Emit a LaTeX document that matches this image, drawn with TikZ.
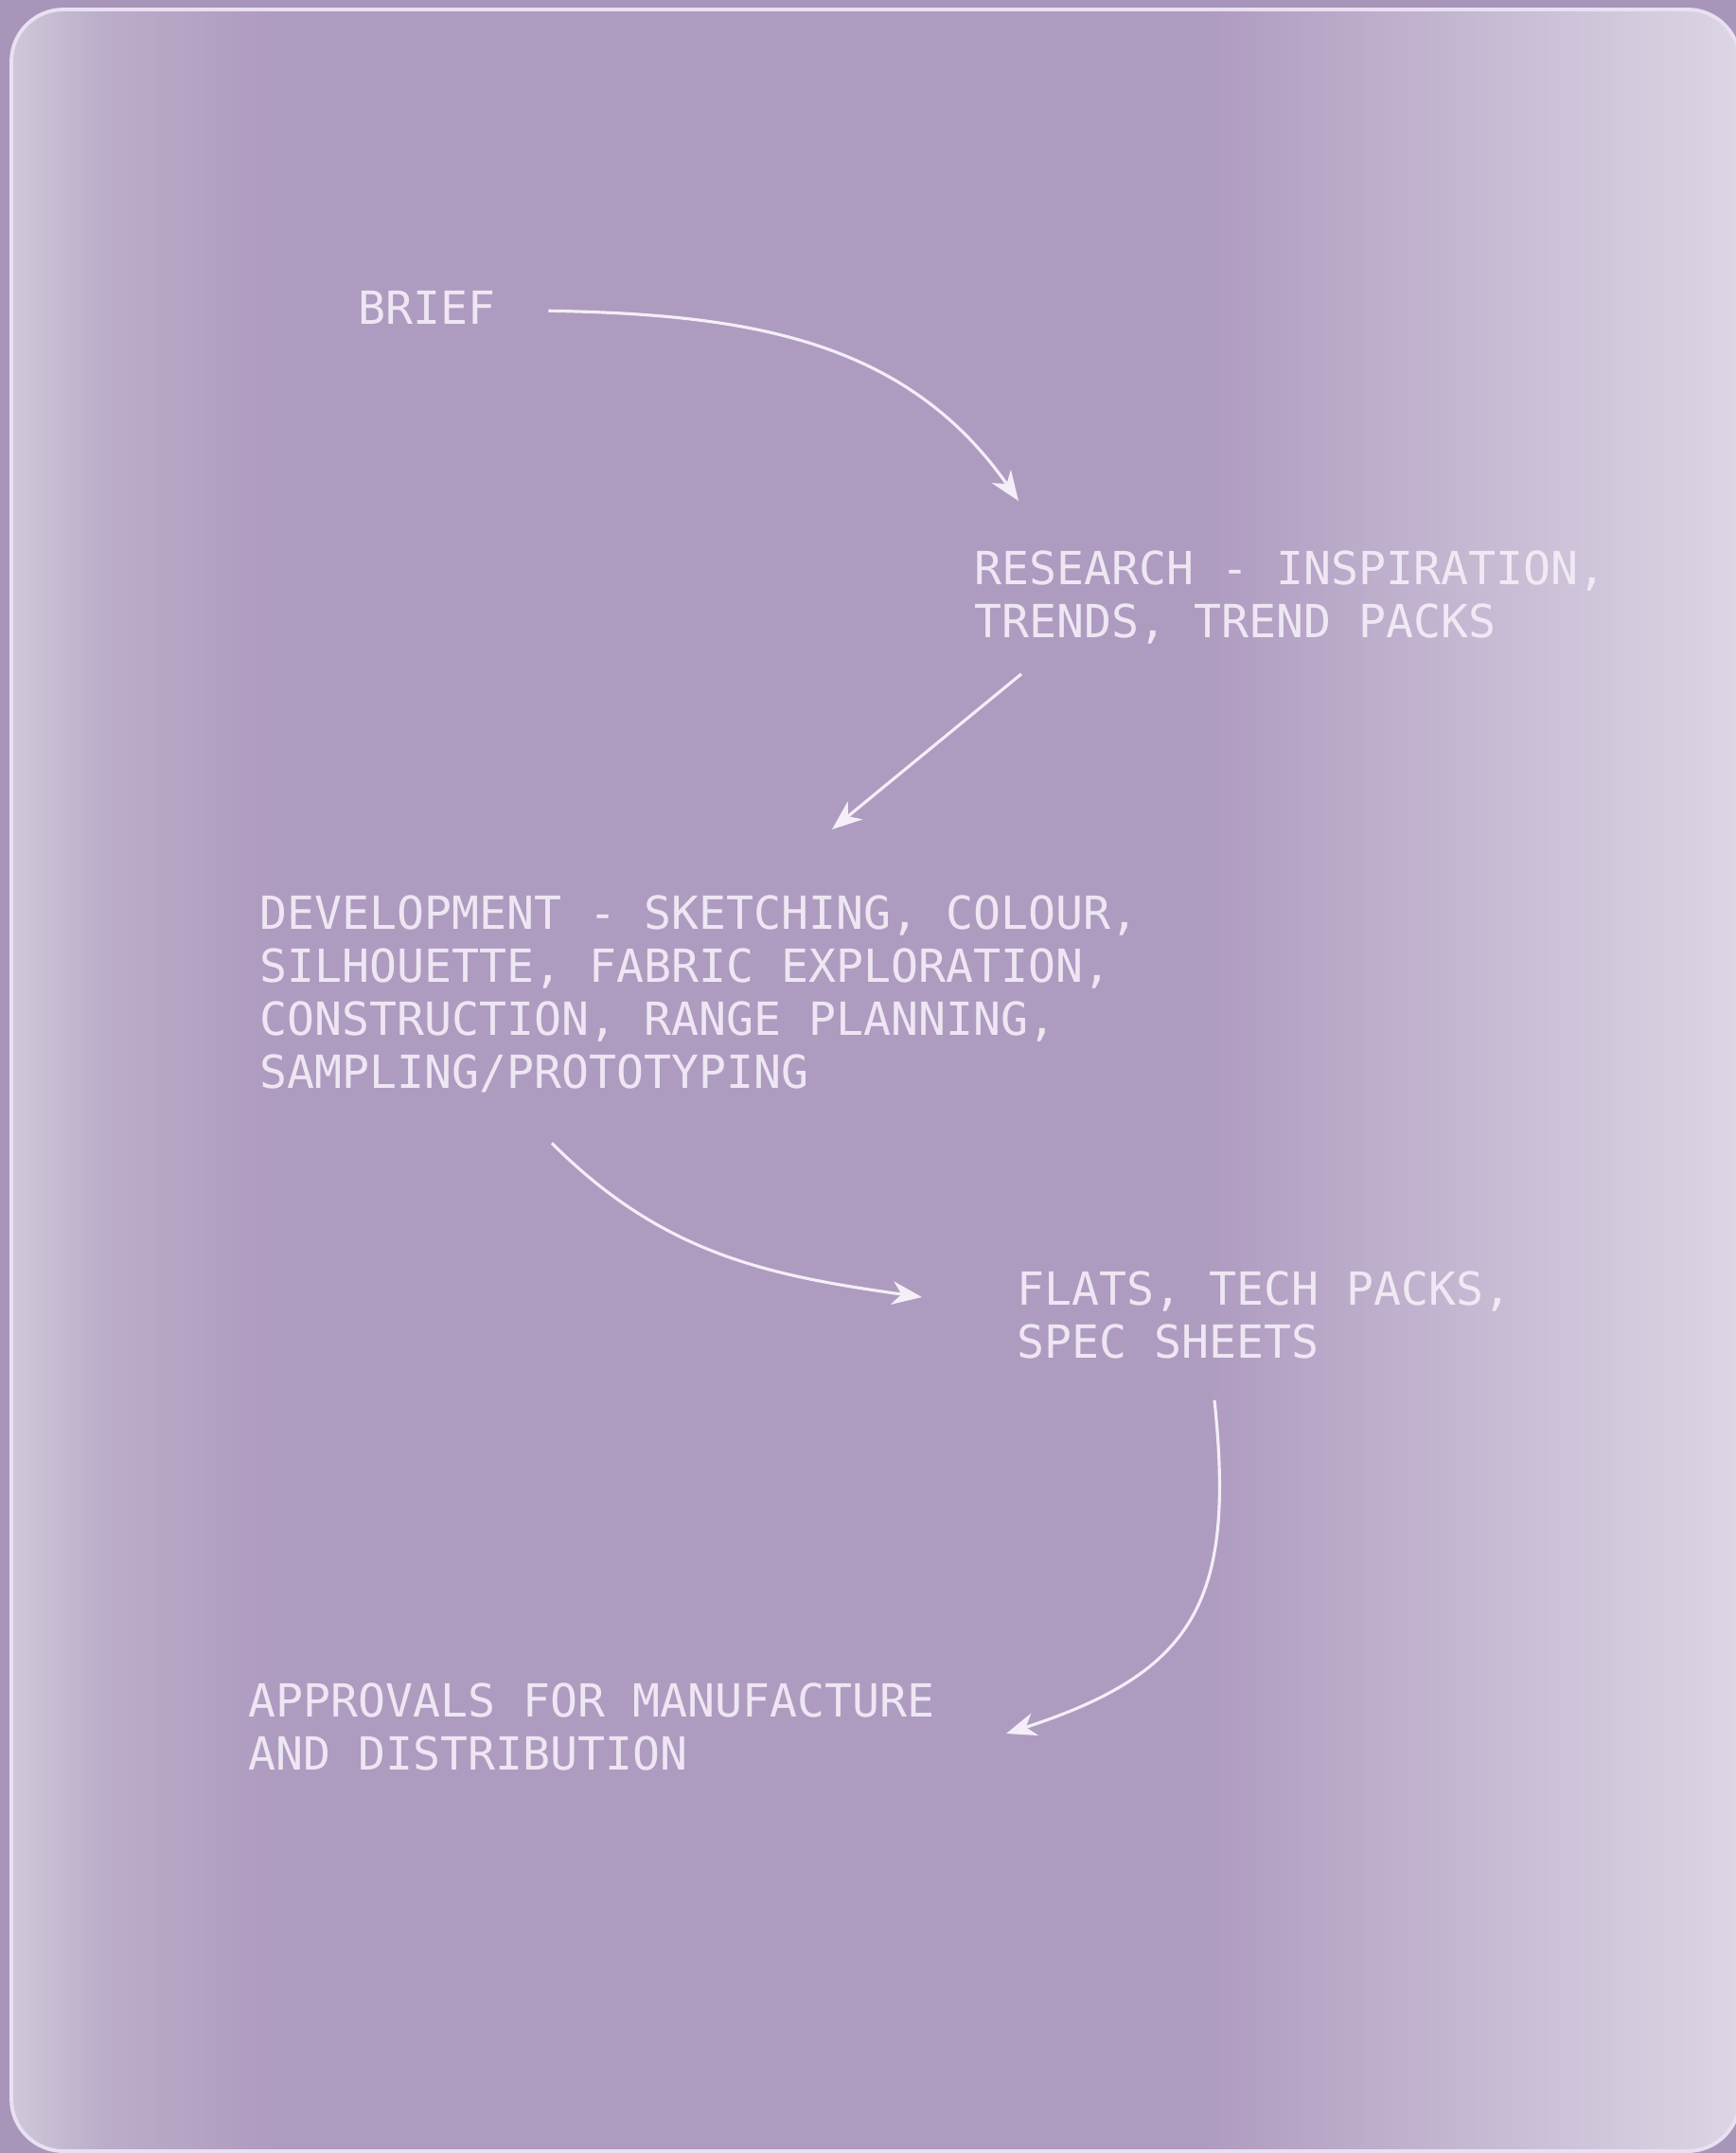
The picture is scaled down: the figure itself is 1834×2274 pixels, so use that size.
\documentclass[tikz,border=0pt]{standalone}
\usepackage{fontspec}
\setmonofont{DejaVu Sans Mono}
\usepackage{xcolor}
\usetikzlibrary{arrows.meta, calc}

\definecolor{backpurple}{HTML}{A796BA}
\definecolor{panelpurple}{HTML}{AE9BC0}
\definecolor{panelmid}{HTML}{BBADCA}
\definecolor{paneledge}{HTML}{D0C8D9}
\definecolor{panellight}{HTML}{DCD5E4}
\definecolor{panelline}{HTML}{E9E0F3}
\definecolor{inkwhite}{HTML}{F4EEF8}

\tikzset{
    steptext/.style={anchor=north west, inner sep=0pt, align=left, text=inkwhite, text opacity=0.92,
        font=\ttfamily\fontsize{13.7pt}{15.9pt}\selectfont},
    flow/.style={draw=inkwhite, line width=0.9pt, -{Stealth[length=9pt, width=7pt, inset=2.8pt]}}
}

\begin{document}
\begin{tikzpicture}[x=0.01cm, y=-0.01cm]
    \useasboundingbox (0,0) rectangle (1834,2274);
    \fill[backpurple] (0,0) rectangle (1834,2274);
    \begin{scope}
        \clip[rounded corners=0.55cm] (12,10) rectangle (1838,2272);
        \fill[panelpurple] (0,0) rectangle (1834,2274);
        \shade[left color=paneledge, right color=panelmid] (12,0) rectangle (110,2274);
        \shade[left color=panelmid, right color=panelpurple] (110,0) rectangle (290,2274);
        \shade[left color=panelpurple, right color=panellight] (1270,0) rectangle (1834,2274);
    \end{scope}
    \draw[panelline, line width=1.1pt, rounded corners=0.55cm] (12,10) rectangle (1838,2272);

    \node[steptext] (brief) at (378,307) {BRIEF};
    \node[steptext] (research) at (1029,581) {RESEARCH - INSPIRATION,\\TRENDS, TREND PACKS};
    \node[steptext] (develop) at (274,945) {DEVELOPMENT - SKETCHING, COLOUR,\\SILHOUETTE, FABRIC EXPLORATION,\\CONSTRUCTION, RANGE PLANNING,\\SAMPLING/PROTOTYPING};
    \node[steptext] (flats) at (1074,1342) {FLATS, TECH PACKS,\\SPEC SHEETS};
    \node[steptext] (approve) at (262,1777) {APPROVALS FOR MANUFACTURE\\AND DISTRIBUTION};

    \draw[flow] ($(brief.east)+(55,3)$) to[out=-1, in=125] ($(research.north west)+(47,-52)$);
    \draw[flow] ($(research.south west)+(50,31)$) -- ($(develop.north west)+(605,-69)$);
    \draw[flow] ($(develop.south west)+(309,53)$) to[out=-45, in=172] ($(flats.north west)+(-100,28)$);
    \draw[flow] ($(flats.south west)+(209,43)$) to[out=-84, in=18, looseness=1.3] ($(approve.north west)+(801,54)$);
\end{tikzpicture}
\end{document}
